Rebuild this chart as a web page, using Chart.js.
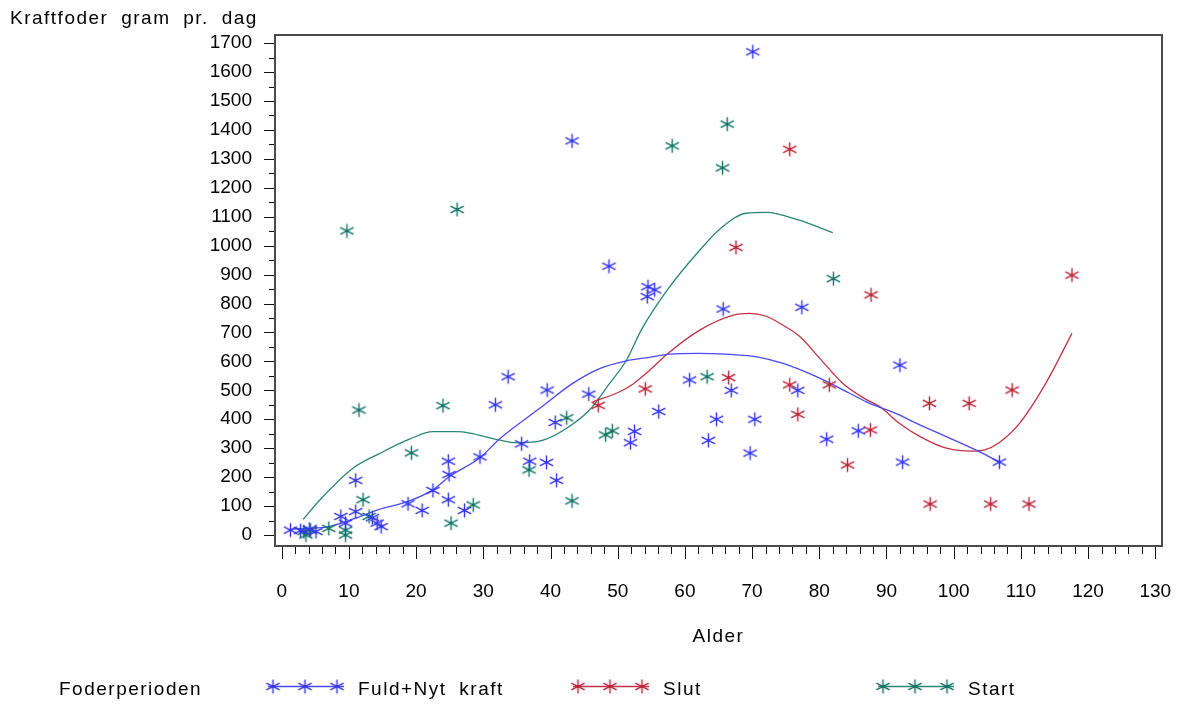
<!DOCTYPE html>
<html><head><meta charset="utf-8">
<script src="https://cdn.jsdelivr.net/npm/chart.js@4.4.1/dist/chart.umd.min.js"></script>
<style>html,body{margin:0;padding:0;background:#fff}canvas{display:block}</style>
</head><body>
<canvas id="c" width="1184" height="704"></canvas>
<script>
// ---- data ----
const xTicks = [0,10,20,30,40,50,60,70,80,90,100,110,120,130];
const yTicks = [0,100,200,300,400,500,600,700,800,900,1000,1100,1200,1300,1400,1500,1600,1700];
const seriesNames = ['Fuld+Nyt kraft','Slut','Start'];
const legendTitle = 'Foderperioden';
const xTitle = 'Alder';
const yTitle = 'Kraftfoder gram pr. dag';

const fuldAge  = [1.3,2.8,4.1,5.1,8.8,9.5,11,11,13.5,14.2,14.8,18.8,20.9,22.5,24.8,24.9,24.8,27.2,29.5,31.8,33.7,35.7,36.9,39.4,39.5,40.7,40.9,43.2,45.7,48.7,51.9,52.5,54.4,54.5,55.5,56.1,60.7,63.5,64.7,65.7,66.9,69.7,70.1,70.4,76.8,77.4,81.1,85.8,92,92.4,106.8];
const fuldFeed = [17,15,20,12,64,41,189,81,60,41,29,108,85,154,255,209,122,85,270,450,547,315,255,251,501,389,189,1362,487,929,319,358,824,858,847,427,536,327,400,781,500,283,1670,400,500,787,331,360,587,252,252];

const slutAge  = [47.1,54.1,66.5,67.6,75.6,75.6,76.8,81.5,84.2,87.6,87.7,96.4,96.5,102.3,105.5,108.7,111.2,117.6];
const slutFeed = [448,505,544,994,1333,519,417,519,242,363,830,455,107,455,107,501,107,898];

const startAge  = [3.3,4.3,3.6,7,9.5,9.5,9.7,11.5,12.1,13,19.3,24,25.2,26.1,28.5,36.8,42.4,43.2,48.2,49.2,58.1,63.3,65.6,66.3,82.1];
const startFeed = [12,17,0,23,17,0,1051,432,122,64,284,447,41,1125,104,225,405,118,346,360,1345,547,1269,1420,886];

// smoothed curves
const fuldFitAge  = [1.4,7,11,14.3,18.8,22.5,25,29.5,32.4,38.4,43.3,47.3,51.3,54.7,57.7,62,66.1,71.1,74.6,79.5,84.5,87,91.9,93.9,98.9,103.8,106.8];
const fuldFitFeed = [20,29,58,87,116,156,203,267,332,438,524,575,602,614,625,628,625,614,593,548,490,460,415,392,340,288,252];
const slutFitAge  = [46.3,50.3,52.3,54.7,57.2,62.2,67.2,69.6,72.1,74.1,77.1,80,82,83.5,87,89,91.9,95,98.9,102.8,104.6,106.8,109.8,113.7,117.6];
const slutFitFeed = [460,495,522,568,622,708,760,766,756,732,686,612,560,524,468,444,386,340,300,290,294,320,386,524,697];
const startFitAge  = [3.2,5.7,10.6,14.6,19,22.5,26,28,32.4,34.9,38.9,42.4,45.8,48.8,51.3,53.5,57.2,62.2,65.6,69.1,72.1,77,82];
const startFitFeed = [54,122,231,282,331,357,357,352,328,319,328,369,432,524,604,708,841,984,1065,1112,1115,1088,1045];

// ---- styling ----
const colors = ['#3434ee','#bb1f33','#0b7262'];
const lineColors = ['#4a4af2','#c33344','#2a8575'];
const FONT = '"Liberation Sans", Arial, sans-serif';

function asterisk(color){
  const c = document.createElement('canvas'); c.width = 17; c.height = 17;
  const g = c.getContext('2d');
  g.strokeStyle = color; g.lineWidth = 1.4; g.lineCap = 'butt';
  const cx = 8.5, cy = 8.5;
  const a = 27*Math.PI/180, r = 7.5;
  const dx = r*Math.cos(a), dy = r*Math.sin(a);
  g.beginPath();
  g.moveTo(cx, cy-7); g.lineTo(cx, cy+7);
  g.moveTo(cx-dx, cy-dy); g.lineTo(cx+dx, cy+dy);
  g.moveTo(cx-dx, cy+dy); g.lineTo(cx+dx, cy-dy);
  g.stroke();
  return c;
}
const stars = colors.map(asterisk);

const zip = (xs, ys) => xs.map((v,i)=>({x:v, y:ys[i]}));

const pointSets = [[fuldAge,fuldFeed],[slutAge,slutFeed],[startAge,startFeed]];
const fitSets = [[fuldFitAge,fuldFitFeed],[slutFitAge,slutFitFeed],[startFitAge,startFitFeed]];

const datasets = [];
fitSets.forEach((s,i)=>datasets.push({
  label: seriesNames[i]+' fit', data: zip(s[0], s[1]), showLine: true,
  borderColor: lineColors[i], borderWidth: 1.3, pointRadius: 0,
  cubicInterpolationMode: 'monotone', fill: false, order: 2
}));
pointSets.forEach((s,i)=>datasets.push({
  label: seriesNames[i], data: zip(s[0], s[1]), showLine: false,
  pointStyle: stars[i], pointRadius: 7, order: 1
}));

const decor = {
  id: 'decor',
  afterDraw(chart){
    const {ctx, chartArea: a, scales: {x, y}} = chart;
    ctx.save();
    // frame
    ctx.strokeStyle = '#4a4a4a'; ctx.lineWidth = 2;
    ctx.strokeRect(a.left, a.top, a.right - a.left, a.bottom - a.top);
    // ticks
    ctx.strokeStyle = '#111'; ctx.lineWidth = 1;
    ctx.beginPath();
    const xMin = xTicks[0], xMax = xTicks[xTicks.length-1];
    for (let v = xMin; v <= xMax; v += 2){
      const px = Math.round(x.getPixelForValue(v)) + 0.5;
      const len = xTicks.includes(v) ? 12 : 7;
      ctx.moveTo(px, a.bottom + 1); ctx.lineTo(px, a.bottom + 1 + len);
    }
    const yMin = yTicks[0], yMax = yTicks[yTicks.length-1];
    for (let v = yMin; v <= yMax; v += 50){
      const py = Math.round(y.getPixelForValue(v)) + 0.5;
      const len = yTicks.includes(v) ? 10 : 5;
      ctx.moveTo(a.left - 1 - len, py); ctx.lineTo(a.left - 1, py);
    }
    ctx.stroke();
    // texts
    ctx.fillStyle = '#000';
    ctx.font = '19px ' + FONT;
    ctx.textBaseline = 'middle';
    try { ctx.letterSpacing = '1.5px'; ctx.wordSpacing = '6px'; } catch(e) {}
    ctx.textAlign = 'left';
    ctx.fillText(yTitle, 10, 19);
    ctx.textAlign = 'center';
    ctx.fillText(xTitle, (a.left + a.right)/2, 637);
    // legend
    const ly = 690;
    ctx.textAlign = 'left';
    ctx.fillText(legendTitle, 59, ly);
    const lx = [268, 573, 878];
    lx.forEach((x0, i) => {
      ctx.strokeStyle = lineColors[i]; ctx.lineWidth = 1.3;
      ctx.beginPath(); ctx.moveTo(x0, ly - 3.5); ctx.lineTo(x0 + 76, ly - 3.5); ctx.stroke();
      [5, 37, 69].forEach(o => ctx.drawImage(stars[i], x0 + o - 8.5, ly - 3.5 - 8.5));
      ctx.fillStyle = '#000';
      ctx.fillText(seriesNames[i], x0 + 90, ly);
    });
    ctx.restore();
  }
};

new Chart(document.getElementById('c'), {
  type: 'scatter',
  data: { datasets },
  options: {
    responsive: false, animation: false, devicePixelRatio: 1,
    layout: { padding: { top: 35, right: 22, left: 0, bottom: 0 } },
    plugins: { legend: { display: false }, tooltip: { enabled: false } },
    scales: {
      x: {
        type: 'linear', min: -1, max: 131,
        afterBuildTicks: s => { s.ticks = xTicks.map(v => ({value: v})); },
        afterFit: s => { s.height = 704 - 546; s.paddingLeft = 0; s.paddingRight = 0; },
        grid: { display: false, drawTicks: false },
        border: { display: false },
        ticks: { padding: 34, maxRotation: 0, autoSkip: false, color: '#000', font: { family: FONT, size: 19 },
                 callback: v => String(v) }
      },
      y: {
        type: 'linear', min: -38, max: 1728,
        afterBuildTicks: s => { s.ticks = yTicks.map(v => ({value: v})); },
        afterFit: s => { s.width = 275; s.paddingTop = 0; s.paddingBottom = 0; },
        grid: { display: false, drawTicks: false },
        border: { display: false },
        ticks: { padding: 23, autoSkip: false, color: '#000', font: { family: FONT, size: 19 },
                 callback: v => String(v) }
      }
    }
  },
  plugins: [decor]
});
</script>
</body></html>
